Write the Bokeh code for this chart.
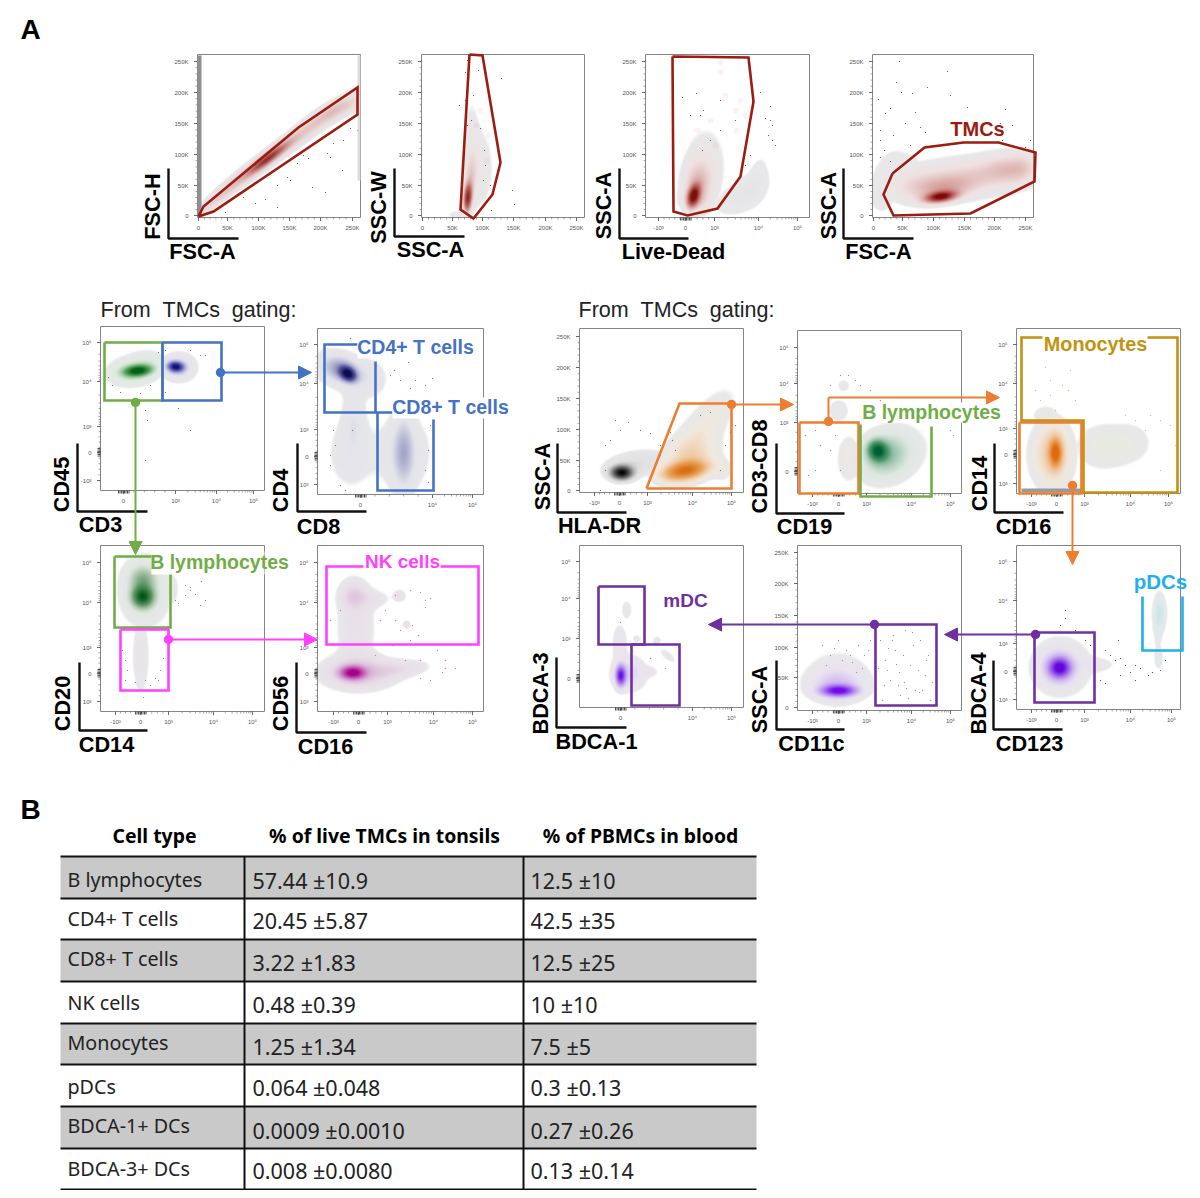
import numpy as np
from bokeh.embed import file_html
from bokeh.resources import INLINE
from bokeh.plotting import figure
from bokeh.models import Range1d, Arrow, NormalHead
from bokeh.core.properties import value

# ---------- colours ----------
RED = "#9c1c10"; BLUE = "#4472c4"; GREEN = "#70ad47"; MAGENTA = "#ff40ff"
ORANGE = "#ed7d31"; GOLD = "#c1930f"; PURPLE = "#7030a0"; CYAN = "#1fb0ee"

# ---------- panel axes: frame (left, top, right, bottom), ticks ----------
K_LABELS = ["0", "50K", "100K", "150K", "200K", "250K"]
K_Y_ROW1 = [215, 185, 154, 123, 92, 61]
LOG5 = ["-10³", "0", "10³", "10⁴", "10⁵"]
Y5 = ["10⁵", "10⁴", "10³", "0", "-10³"]
Y5N = ["10⁵", "10⁴", "10³", "0", "10³"]

PANELS = [
    dict(frame=(197, 54, 360, 217), xt=[198, 227, 258, 289, 320, 352], xl=K_LABELS, yt=K_Y_ROW1, yl=K_LABELS, xk="lin", yk="lin"),
    dict(frame=(421, 54, 584, 217), xt=[422, 452, 482, 513, 545, 576], xl=K_LABELS, yt=K_Y_ROW1, yl=K_LABELS, xk="lin", yk="lin"),
    dict(frame=(645, 54, 809, 217), xt=[658, 685, 714, 758, 797], xl=LOG5, yt=K_Y_ROW1, yl=K_LABELS, xk="log", yk="lin"),
    dict(frame=(872, 54, 1033, 217), xt=[873, 902, 933, 964, 994, 1025], xl=K_LABELS, yt=K_Y_ROW1, yl=K_LABELS, xk="lin", yk="lin"),
    dict(frame=(100, 326, 264, 490), xt=[123, 175, 216, 253], xl=["0", "10³", "10⁴", "10⁵"], yt=[342, 381, 426, 452, 480], yl=Y5, xk="log", yk="log"),
    dict(frame=(317, 328, 483, 494), xt=[360, 432, 472], xl=["0", "10⁴", "10⁵"], yt=[344, 383, 429, 456, 484], yl=Y5N, xk="log", yk="log"),
    dict(frame=(100, 545, 264, 711), xt=[115, 140, 168, 213, 252], xl=LOG5, yt=[562, 602, 647, 673, 701], yl=Y5N, xk="log", yk="log"),
    dict(frame=(317, 545, 483, 711), xt=[333, 358, 387, 433, 472], xl=LOG5, yt=[562, 602, 647, 673, 701], yl=Y5N, xk="log", yk="log"),
    dict(frame=(579, 328, 743, 492), xt=[594, 619, 647, 692, 731], xl=LOG5, yt=[490, 460, 429, 398, 367, 336], yl=K_LABELS, xk="log", yk="lin"),
    dict(frame=(797, 330, 961, 493), xt=[812, 838, 866, 911, 950], xl=LOG5, yt=[347, 383, 422, 471], yl=["10⁵", "10⁴", "10³", "0"], xk="log", yk="log"),
    dict(frame=(1016, 328, 1180, 493), xt=[1031, 1056, 1084, 1130, 1168], xl=LOG5, yt=[344, 383, 428, 454, 483], yl=Y5N, xk="log", yk="log"),
    dict(frame=(579, 545, 743, 707), xt=[620, 692, 731], xl=["0", "10⁴", "10⁵"], yt=[561, 598, 638, 678], yl=["10⁵", "10⁴", "10³", "0"], xk="log", yk="log"),
    dict(frame=(797, 545, 961, 710), xt=[812, 838, 866, 911, 950], xl=LOG5, yt=[707, 677, 647, 615, 583, 552], yl=K_LABELS, xk="log", yk="lin"),
    dict(frame=(1016, 545, 1180, 709), xt=[1031, 1056, 1084, 1130, 1171], xl=LOG5, yt=[561, 600, 643, 671, 699], yl=Y5, xk="log", yk="log"),
]

# ---------- axis corner marks and bold axis titles ----------
# (corner x, top y, corner y, right x, y title, title x, title y, x title, title x, title y)
CORNERS = [
    (168, 168, 238, 238, "FSC-H", 152, 206, "FSC-A", 202, 251),
    (394, 168, 236, 464, "SSC-W", 378, 207, "SSC-A", 430, 249),
    (619, 168, 238, 688, "SSC-A", 603, 205, "Live-Dead", 673, 251),
    (843, 168, 238, 913, "SSC-A", 828, 205, "FSC-A", 878, 251),
    (77, 443, 511, 147, "CD45", 61, 484, "CD3", 100, 524),
    (297, 443, 511, 366, "CD4", 280, 490, "CD8", 318, 526),
    (79, 662, 730, 147, "CD20", 62, 703, "CD14", 106, 744),
    (296, 662, 732, 366, "CD56", 280, 703, "CD16", 325, 746),
    (557, 443, 512, 626, "SSC-A", 542, 476, "HLA-DR", 599, 525),
    (776, 443, 513, 844, "CD3-CD8", 759, 466, "CD19", 804, 526),
    (994, 443, 512, 1063, "CD14", 979, 483, "CD16", 1023, 526),
    (556, 657, 727, 626, "BDCA-3", 540, 693, "BDCA-1", 596, 741),
    (776, 660, 729, 844, "SSC-A", 759, 699, "CD11c", 811, 743),
    (993, 660, 729, 1062, "BDCA-4", 978, 693, "CD123", 1029, 743),
]

# ---------- cell-population densities: (cx, cy, sigma along, sigma across, angle, peak) ----------
GREY = (232, 232, 234)
LAYERS = [
    (0, (236, 222, 222), (195, 125, 120), (125, 15, 15), [
        (267, 158, 16, 3, -37, .65), (243, 176, 28, 4.2, -37, .17), (300, 134, 34, 5, -36, .15),
        (338, 108, 18, 5, -24, .11), (215, 200, 18, 3, -40, .1), (280, 148, 60, 7, -36, .05), (340, 108, 25, 7, -26, .05)]),
    (1, (238, 228, 228), (190, 110, 105), (125, 20, 15), [
        (467, 197, 2.6, 9, 4, .8), (470, 178, 4, 18, 3, .14), (477, 168, 10, 26, 0, .08), (471, 130, 5, 24, 0, .04)]),
    (1, GREY, GREY, GREY, [(458, 214, 6, 2.5, 0, .09)]),
    (2, GREY, (225, 225, 227), (205, 205, 208), [
        (738, 197, 13, 7, -25, .16), (757, 178, 5, 12, 10, .1), (748, 190, 13, 8, -45, .12)]),
    (2, (240, 226, 226), (195, 110, 105), (125, 15, 12), [
        (693, 195, 3.6, 7, 15, .95), (697, 184, 9, 14, 5, .2), (703, 168, 13, 25, 5, .09), (694, 200, 9, 7, 0, .1)]),
    (3, GREY, (225, 225, 227), (205, 205, 208), [(882, 195, 5, 7, 0, .2), (885, 178, 9, 18, 25, .08), (905, 165, 14, 9, 0, .05)]),
    (3, (240, 226, 226), (200, 120, 115), (125, 10, 10), [
        (940, 196, 10, 3.4, -8, .95), (945, 187, 20, 7, -6, .22), (965, 175, 36, 9, -6, .1),
        (1008, 168, 15, 8, 0, .08), (915, 186, 18, 11, 0, .08), (958, 178, 42, 16, -5, .07), (1008, 170, 20, 12, -8, .1), (1022, 166, 8, 10, 0, .07)]),
    (4, (226, 236, 226), (90, 165, 95), (0, 95, 25), [
        (137, 370, 8.5, 3.4, -6, .95), (133, 371, 13, 7, -8, .16), (134, 369, 19, 11, -8, .07), (148, 361, 10, 7, 0, .06)]),
    (4, (228, 228, 240), (110, 110, 190), (15, 15, 120), [(175, 366, 5, 3.2, 5, .9), (177, 367, 9, 7, 0, .14), (179, 366, 13, 11, 0, .06)]),
    (5, (228, 228, 236), (90, 90, 165), (12, 12, 80), [
        (347, 373, 5.5, 4, 35, .9), (339, 368, 13, 8.5, 15, .24), (345, 372, 19, 12, 25, .08), (370, 377, 10, 11, 0, .07),
        (353, 418, 7, 20, 0, .1), (350, 452, 14, 22, 0, .08), (403, 452, 7, 24, 0, .2), (402, 452, 18, 24, 0, .09)]),
    (6, (225, 232, 225), (95, 150, 100), (0, 85, 20), [
        (142, 596, 7, 7, 0, .85), (142, 578, 8.5, 8, 0, .28), (144, 590, 16, 22, 0, .13), (172, 588, 3, 7, 0, .06)]),
    (6, (232, 228, 232), (215, 205, 215), (205, 195, 210), [(140, 655, 5, 23, 0, .1)]),
    (7, (232, 222, 232), (200, 110, 190), (165, 0, 135), [
        (352, 672, 7.5, 4, 0, .9), (358, 672, 22, 10, 0, .24), (400, 668, 18, 5.5, -5, .1),
        (353, 595, 9, 10, 0, .15), (355, 628, 13, 26, 0, .08), (372, 598, 12, 6, 0, .06),
        (399, 595, 4, 4, 0, .09), (406, 624, 2.8, 2.8, 0, .09)]),
    (8, (226, 226, 226), (110, 110, 110), (5, 5, 5), [(621, 472, 7, 4.5, 0, .95), (636, 463, 20, 8, -8, .13)]),
    (8, (242, 232, 220), (235, 165, 95), (215, 110, 15), [
        (684, 470, 14, 5.5, -10, .85), (690, 458, 16, 13, -30, .2), (700, 432, 32, 12, -55, .1), (722, 470, 7, 8, 0, .05)]),
    (9, GREY, GREY, GREY, [(838, 410, 6, 7, 0, .09), (843, 385, 3.5, 3.5, 0, .09)]),
    (9, (240, 232, 225), (240, 210, 190), (235, 190, 160), [(848, 458, 7, 14, 0, .1)]),
    (9, (222, 232, 225), (80, 155, 110), (0, 95, 50), [
        (877, 450, 6, 6.5, -30, .85), (885, 454, 15, 13, -30, .24), (890, 455, 24, 17, -25, .09)]),
    (10, (232, 235, 226), (225, 228, 200), (220, 222, 180), [
        (1103, 446, 16, 13, 0, .12), (1130, 442, 13, 12, 0, .07), (1045, 415, 9, 7, 0, .07)]),
    (10, (240, 232, 222), (240, 175, 115), (222, 108, 12), [
        (1055, 452, 4.2, 9.5, 0, .85), (1052, 453, 10, 17, 0, .28), (1050, 455, 16, 24, 0, .07)]),
    (11, (235, 228, 240), (175, 135, 235), (105, 15, 230), [
        (620, 675, 3.2, 6.5, 0, .9), (628, 673, 10, 10, 0, .2), (619, 643, 4.5, 12, 0, .1),
        (626, 609, 3, 5.5, 0, .09), (636, 638, 2.5, 2.5, 0, .08), (656, 640, 3, 3, 0, .07), (667, 655, 7, 3, 40, .06), (648, 671, 5, 3, 0, .1)]),
    (12, (235, 228, 240), (175, 130, 240), (110, 10, 235), [
        (838, 690, 11, 3.6, 0, .9), (836, 684, 17, 10, 0, .2), (837, 675, 20, 17, 0, .07)]),
    (13, (232, 228, 240), (170, 120, 235), (100, 5, 220), [
        (1059, 667, 6.5, 6, 0, .85), (1058, 667, 13, 13, 0, .24), (1062, 665, 19, 18, 0, .07), (1096, 664, 11, 4.5, 0, .07)]),
    (13, (225, 235, 236), (190, 225, 228), (170, 215, 220), [
        (1159, 612, 3.5, 10, 0, .3), (1157, 625, 3, 14, 0, .08), (1158, 658, 3, 7, 0, .08)]),
]

# ---------- gate outlines ----------
GATES = [
    (RED, [198, 203, 298, 357, 357, 213, 198], [216, 206, 127, 87, 114, 211, 216]),
    (RED, [469, 482, 500, 492, 473, 460, 469], [54, 55, 162, 194, 218, 209, 54]),
    (RED, [672, 748, 753, 740, 717, 687, 673, 672], [56, 57, 101, 176, 208, 215, 211, 56]),
    (RED, [892, 924, 963, 998, 1035, 1034, 970, 893, 883, 892], [173, 147, 142, 142, 152, 181, 213, 215, 194, 173]),
    (GREEN, [104, 162, 162, 104, 104], [342, 342, 400, 400, 342]),
    (BLUE, [162, 221, 221, 162, 162], [342, 342, 400, 400, 342]),
    (BLUE, [357, 324, 324, 392], [344, 344, 412, 412]),
    (BLUE, [375, 375], [361, 412]),
    (BLUE, [377, 377, 433, 433], [412, 490, 490, 419]),
    (GREEN, [114, 170, 170, 114, 114], [556, 556, 627, 627, 556]),
    (MAGENTA, [120, 168, 168, 120, 120], [629, 629, 690, 690, 629]),
    (MAGENTA, [363, 326, 326, 478, 478, 440], [566, 566, 644, 644, 566, 566]),
    (ORANGE, [646, 679, 731, 731, 646], [488, 403, 403, 488, 488]),
    (ORANGE, [799, 858, 858, 799, 799], [422, 422, 493, 493, 422]),
    (GREEN, [860, 860, 931, 931], [424, 496, 496, 426]),
    (GOLD, [1042, 1021, 1021, 1083, 1083, 1177, 1177, 1147], [337, 337, 420, 420, 492, 492, 337, 337]),
    (ORANGE, [1019, 1081, 1081, 1019, 1019], [422, 422, 493, 493, 422]),
    (PURPLE, [598, 644, 644, 598, 598], [586, 586, 644, 644, 586]),
    (PURPLE, [631, 679, 679, 631, 631], [644, 644, 705, 705, 644]),
    (PURPLE, [875, 936, 936, 875, 875], [624, 624, 705, 705, 624]),
    (PURPLE, [1034, 1094, 1094, 1034, 1034], [632, 632, 702, 702, 632]),
    (CYAN, [1142, 1142, 1182, 1182], [596, 650, 650, 596]),
]

# ---------- arrows: (colour, dot x, dot y, path x, path y) ----------
ARROWS = [
    (BLUE, 220, 372, [220, 311], [372, 372]),
    (GREEN, 135, 402, [135, 135], [402, 554]),
    (MAGENTA, 168, 639, [168, 317], [639, 639]),
    (ORANGE, 731, 404, [731, 793], [404, 404]),
    (ORANGE, 828, 421, [828, 828, 999], [421, 397, 397]),
    (ORANGE, 1072, 485, [1072, 1072], [485, 564]),
    (PURPLE, 874, 624, [874, 708], [624, 624]),
    (PURPLE, 1035, 634, [1035, 944], [634, 634]),
]

# ---------- scattered events ----------
EVENTS = [
    ("#444444", [303,327,333,343,350,357,308,297,277,287,243,255,225,277,265,325,312,342,290,330],
                [155,153,143,140,128,130,158,163,185,177,197,203,212,207,199,192,187,170,180,157]),
    ("#444444", [467,478,465,471,480,484,485,483,490,491,467,473,501,512,514,465,459,491],
                [125,70,100,120,128,150,165,180,185,195,60,95,78,190,204,72,105,210]),
    ("#444444", [696,703,720,760,770,750,765,768,772,775,700,710,720,735,770,772,750,745,702,682,690],
                [93,110,100,92,106,115,118,135,140,145,115,140,130,120,120,125,155,165,150,97,115]),
    ("#444444", [899,947,896,901,878,872,912,927,950,967,1005,890,885,915,905,920,893,880,884,880,890,925,1000,1012,1030,1025,1002,880,910,928],
                [61,71,82,92,99,90,93,87,95,107,109,108,113,112,123,127,135,140,150,157,161,132,123,125,140,147,140,130,145,147]),
    ("#3d5a3d", [108,112,120,140,150,165,190,200,145,147,145,190,178,205,158,165],
                [377,385,392,393,385,350,350,355,410,420,460,430,408,355,352,392]),
    ("#5a5aa0", [350,352,333,335,330,330,394,390,400,408,410,415,425,432,425,428,340,345,430,428],
                [338,430,430,445,455,465,370,375,380,362,388,380,385,378,470,450,485,490,425,482]),
    ("#4f7f4f", [185,190,201,185,190,195,205,200,175,178,122,125,127,125,163,160,145,155,135,150,143,158],
                [585,587,581,595,590,594,600,605,600,603,650,660,670,680,658,670,680,678,682,685,697,680]),
    ("#d048c8", [395,410,420,425,430,425,385,380,395,400,410,392,412,418,375,405,420,437,445,430,442,455,420,445,340,330],
                [595,590,592,600,598,607,610,620,620,630,640,645,625,635,655,660,660,650,668,680,672,668,678,660,610,620]),
    ("#555555", [615,620,610,605,640,650,660,672,675,660,670,700,710,735,725,600,605,720,730,628],
                [420,430,440,445,430,433,445,440,450,455,432,415,412,425,445,490,470,470,432,422]),
    ("#777777", [840,848,855,860,870,830,880,815,820,830,808,815,835,840,805,950,953],
                [375,375,380,385,390,385,400,430,445,450,475,470,435,470,435,430,435]),
    ("#c2b84a", [1045,1050,1035,1040,1062,1068,1075,1050,1055,1125,1135,1150,1160,1175,1170,1145,1160,1070],
                [367,380,390,400,385,390,400,395,410,415,420,415,420,445,425,430,470,370]),
    ("#8a5fd0", [620,650,665], [622,658,668]),
    ("#9a5ff0", [880,885,890,895,900,905,910,915,920,925,930,882,887,893,898,903,908,913,918,922,928,884,892,899,906,912,919,926,932,878,888,896,904,822,830,838,846,852,858,864,870,826,834,842,850,856,862,868,874],
                [640,660,680,650,695,630,665,690,640,675,700,700,670,635,685,655,698,645,670,690,655,685,640,672,688,632,692,660,682,668,648,664,682,645,655,640,650,662,645,655,640,665,648,660,655,672,668,650,662]),
    ("#333333", [1105,1110,1115,1120,1125,1130,1135,1140,1148,1152,1160,1100,1105,1120,1135,1165,1060,1075,1065,1065,1090,1085,1118],
                [650,655,660,658,665,672,665,668,675,672,670,680,683,675,680,660,625,630,610,618,645,640,640]),
]
PALE_EVENTS_X = [720, 720, 725, 740, 735, 745, 710, 697, 715, 736, 480, 476, 488, 486]
PALE_EVENTS_Y = [62, 72, 95, 100, 110, 115, 120, 130, 145, 130, 110, 125, 135, 160]

# ---------- labels on the gates ----------
GATE_LABELS = [
    ("TMCs", RED, 977, 128, 20), ("CD4+ T cells", BLUE, 415, 346, 19.5), ("CD8+ T cells", BLUE, 450, 406, 19.5),
    ("B lymphocytes", GREEN, 219, 561, 19.5), ("NK cells", MAGENTA, 402, 561, 19),
    ("B lymphocytes", GREEN, 931, 411, 19.5), ("Monocytes", GOLD, 1095, 343, 19.8),
    ("mDC", PURPLE, 685, 600, 19), ("pDCs", CYAN, 1160, 581, 20.5),
]
# white boxes behind labels: left, right, top, bottom
LABEL_BOXES = ([151, 862, 357, 392], [264, 1002, 474, 509], [551, 402, 336, 397], [574, 422, 358, 418])

# ---------- table ----------
COLUMNS = ["Cell type", "% of live TMCs in tonsils", "% of PBMCs in blood"]
CELL_TYPES = ["B lymphocytes", "CD4+ T cells", "CD8+ T cells", "NK cells", "Monocytes", "pDCs", "BDCA-1+ DCs", "BDCA-3+ DCs"]
TONSILS = ["57.44 ±10.9", "20.45 ±5.87", "3.22 ±1.83", "0.48 ±0.39", "1.25 ±1.34", "0.064 ±0.048", "0.0009 ±0.0010", "0.008 ±0.0080"]
BLOOD = ["12.5 ±10", "42.5 ±35", "12.5 ±25", "10 ±10", "7.5 ±5", "0.3 ±0.13", "0.27 ±0.26", "0.13 ±0.14"]
ROW_LINES = [856, 898, 939, 981, 1023, 1064, 1106, 1148, 1189]
NAME_Y = [879, 918, 958, 1002, 1042, 1086, 1125, 1168]
VALUE_Y = [880, 920, 962, 1004, 1046, 1087, 1130, 1170]

# ---------- figure ----------
p = figure(width=1192, height=1190, x_range=Range1d(0, 1192), y_range=Range1d(1190, 0),
           output_backend="svg", toolbar_location=None, min_border=0)
p.axis.visible = False
p.grid.visible = False
p.outline_line_color = None
p.background_fill_color = "white"
p.border_fill_color = "white"

SANS = value("Liberation Sans")
TABLE_FONT = value("Noto Sans")


def rgba_image(frame, low, mid, high, blobs):
    l, t, r, b = frame
    xs = np.arange(l, r, 0.5) + 0.25
    ys = np.arange(t, b, 0.5) + 0.25
    X, Y = np.meshgrid(xs, ys)
    d = np.zeros_like(X)
    for cx, cy, sa, sb, ang, amp in blobs:
        th = np.deg2rad(ang)
        dx, dy = X - cx, Y - cy
        u = dx * np.cos(th) + dy * np.sin(th)
        v = -dx * np.sin(th) + dy * np.cos(th)
        d += amp * np.exp(-0.5 * (u ** 2 / sa ** 2 + v ** 2 / sb ** 2))
    d = np.clip(d, 0, 1)
    stops = [0.03, 0.12, 0.5, 1.0]
    img = np.zeros(d.shape + (4,), dtype=np.uint8)
    for ch in range(3):
        vals = [GREY[ch], low[ch], mid[ch], high[ch]]
        img[..., ch] = np.interp(d, stops, vals).astype(np.uint8)
    img[..., 3] = (np.clip((d - 0.025) / 0.01, 0, 1) * 255).astype(np.uint8)
    return img.view(dtype=np.uint32).reshape(d.shape)


for idx, low, mid, high, blobs in LAYERS:
    l, t, r, b = PANELS[idx]["frame"]
    p.image_rgba(image=[rgba_image((l, t, r, b), low, mid, high, blobs)], x=[l], y=[t], dw=[r - l], dh=[b - t])

p.scatter(PALE_EVENTS_X, PALE_EVENTS_Y, marker="circle", size=6, color="#e8a0a0", alpha=0.14, line_color=None)
for color, xs, ys in EVENTS:
    p.scatter(xs, ys, marker="square", size=1.1, color=color, alpha=0.8, line_color=None)

x0, x1, y0, y1 = [], [], [], []
x0m, x1m, y0m, y1m = [], [], [], []


def minors(pos, labels, kind):
    out = []
    for a, b, la, lb in zip(pos[:-1], pos[1:], labels[:-1], labels[1:]):
        logpair = kind == "log" and "10" in la and "10" in lb and not la.startswith("-") and not lb.startswith("-")
        if logpair and abs(a - b) > 20 and la != lb:
            out += [a + (b - a) * np.log10(k) for k in range(2, 10)]
        else:
            out += [a + (b - a) * k / 5 for k in range(1, 5)]
    return out


for P in PANELS:
    l, t, r, b = P["frame"]
    p.quad(left=[l], right=[r], top=[t], bottom=[b], fill_color=None, line_color="#858585", line_width=1)
    for xv in P["xt"]:
        x0.append(xv); x1.append(xv); y0.append(b); y1.append(b + 3.5)
    for yv in P["yt"]:
        y0.append(yv); y1.append(yv); x0.append(l); x1.append(l - 3.5)
    for xv in minors(P["xt"], P["xl"], P["xk"]):
        x0m.append(xv); x1m.append(xv); y0m.append(b); y1m.append(b + 2)
    for yv in minors(P["yt"], P["yl"], P["yk"]):
        y0m.append(yv); y1m.append(yv); x0m.append(l); x1m.append(l - 2)
    p.text(P["xt"], [b + 10] * len(P["xt"]), text=P["xl"], text_font=SANS, text_font_size="6px",
           text_color="#555555", text_align="center", text_baseline="middle")
    p.text([l - 9] * len(P["yt"]), P["yt"], text=P["yl"], text_font=SANS, text_font_size="6px",
           text_color="#555555", text_align="right", text_baseline="middle")
    if P["xk"] == "log" and "0" in P["xl"]:
        z = P["xt"][P["xl"].index("0")]
        p.segment(np.arange(z - 5, z + 6, 1.5), b, np.arange(z - 5, z + 6, 1.5), b + 3, line_color="#222222", line_width=0.8)
    if P["yk"] == "log" and "0" in P["yl"]:
        z = P["yt"][P["yl"].index("0")]
        p.segment(l, np.arange(z - 4, z + 5, 1.5), l - 3, np.arange(z - 4, z + 5, 1.5), line_color="#222222", line_width=0.8)

p.segment(x0, y0, x1, y1, line_color="#444444", line_width=0.8)
p.segment(x0m, y0m, x1m, y1m, line_color="#666666", line_width=0.6)

# strips of piled-up events
p.quad(left=[197, 357, 1021], right=[201, 360, 1081], top=[55, 55, 488], bottom=[216, 180, 492],
       fill_color=["#8f8f8f", "#dddddd", "#9a9a9a"], line_color=None)

# corner marks and axis titles
for cx, top, cy, rx, yt_, ytx, yty, xt_, xtx, xty in CORNERS:
    p.line([cx, cx, rx], [top, cy, cy], line_color="#111111", line_width=2.4)
    p.text([ytx], [yty], text=[yt_], angle=np.pi / 2, text_font=SANS, text_font_style="bold", text_font_size="21.7px",
           text_color="black", text_align="center", text_baseline="middle")
    p.text([xtx], [xty], text=[xt_], text_font=SANS, text_font_style="bold", text_font_size="21.7px",
           text_color="black", text_align="center", text_baseline="middle")

# gates
for color, xs, ys in GATES:
    p.line(xs, ys, line_color=color, line_width=2.6, line_join="miter")

# white boxes and labels
p.quad(left=LABEL_BOXES[0], right=LABEL_BOXES[1], top=LABEL_BOXES[2], bottom=LABEL_BOXES[3], fill_color="white", line_color=None)
for label, color, x, y, size in GATE_LABELS:
    p.text([x], [y], text=[label], text_font=SANS, text_font_style="bold", text_font_size=f"{size}px",
           text_color=color, text_align="center", text_baseline="middle")

# arrows
for color, dx, dy, xs, ys in ARROWS:
    if len(xs) > 2:
        p.line(xs[:-1], ys[:-1], line_color=color, line_width=2)
    p.add_layout(Arrow(end=NormalHead(size=13, fill_color=color, line_color=color), line_color=color, line_width=2,
                       x_start=xs[-2], y_start=ys[-2], x_end=xs[-1], y_end=ys[-1]))
    p.scatter([dx], [dy], marker="circle", size=9.5, color=color, line_color=None)

# panel letters and captions
p.text([20, 20], [29, 809], text=["A", "B"], text_font=SANS, text_font_style="bold", text_font_size="28px",
       text_color="black", text_baseline="middle")
CAPTION = "From\u00a0\u00a0TMCs\u00a0\u00a0gating:"
p.text([100, 578], [309, 309], text=[CAPTION, CAPTION], text_font=SANS, text_font_size="21.5px",
       text_color="#222222", text_baseline="middle")

# table
grey_rows = range(0, 8, 2)
p.quad(left=[60] * 4, right=[756] * 4, top=[ROW_LINES[i] for i in grey_rows], bottom=[ROW_LINES[i + 1] for i in grey_rows],
       fill_color="#c9c9c9", line_color=None)
p.segment([60] * 9, ROW_LINES, [756] * 9, ROW_LINES, line_color="#111111", line_width=2)
p.segment([244, 523], [856, 856], [244, 523], [1189, 1189], line_color="#111111", line_width=2)
p.text([154, 384, 640], [835] * 3, text=COLUMNS, text_font=TABLE_FONT, text_font_style="bold", text_font_size="19.4px",
       text_color="black", text_align="center", text_baseline="middle")
p.text([67] * 8, NAME_Y, text=CELL_TYPES, text_font=TABLE_FONT, text_font_size="19.7px", text_color="#222222", text_baseline="middle")
p.text([252] * 8, VALUE_Y, text=TONSILS, text_font=TABLE_FONT, text_font_size="21.5px", text_color="#222222", text_baseline="middle")
p.text([530] * 8, VALUE_Y, text=BLOOD, text_font=TABLE_FONT, text_font_size="21.5px", text_color="#222222", text_baseline="middle")

open("out.html", "w").write(file_html(p, INLINE))
